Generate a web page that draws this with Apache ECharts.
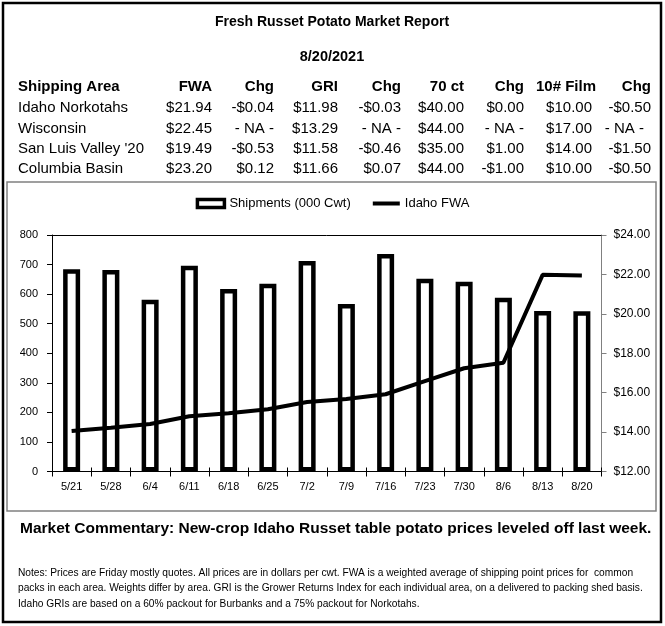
<!DOCTYPE html>
<html>
<head>
<meta charset="utf-8">
<script src="https://cdn.jsdelivr.net/npm/echarts@6/dist/echarts.min.js"></script>
<style>
html,body{margin:0;padding:0;background:#fff;}
#c{width:665px;height:626px;}
</style>
</head>
<body>
<div id="c"></div>
<script>
const reportTitle = "Fresh Russet Potato Market Report";
const reportDate = "8/20/2021";
const tableHeaders = ["Shipping Area", "FWA", "Chg", "GRI", "Chg", "70 ct", "Chg", "10# Film", "Chg"];
const rowIdaho = ["Idaho Norkotahs", "$21.94", "-$0.04", "$11.98", "-$0.03", "$40.00", "$0.00", "$10.00", "-$0.50"];
const rowWisconsin = ["Wisconsin", "$22.45", "- NA -", "$13.29", "- NA -", "$44.00", "- NA -", "$17.00", "- NA -"];
const rowSanLuis = ["San Luis Valley '20", "$19.49", "-$0.53", "$11.58", "-$0.46", "$35.00", "$1.00", "$14.00", "-$1.50"];
const rowColumbia = ["Columbia Basin", "$23.20", "$0.12", "$11.66", "$0.07", "$44.00", "-$1.00", "$10.00", "-$0.50"];

const categories = ["5/21", "5/28", "6/4", "6/11", "6/18", "6/25", "7/2", "7/9", "7/16", "7/23", "7/30", "8/6", "8/13", "8/20"];
const shipments = [684, 682, 581, 696, 617, 635, 712, 567, 736, 652, 642, 588, 543, 542];
const idahoFWA = [14.05, 14.22, 14.41, 14.80, 14.95, 15.16, 15.53, 15.68, 15.92, 16.59, 17.24, 17.52, 21.98, 21.94];
const seriesNames = ["Shipments (000 Cwt)", "Idaho FWA"];

const commentary = "Market Commentary: New-crop Idaho Russet table potato prices leveled off last week.";
const notesLines = [
  "Notes: Prices are Friday mostly quotes. All prices are in dollars per cwt. FWA is a weighted average of shipping point prices for  common",
  "packs in each area. Weights differ by area. GRI is the Grower Returns Index for each individual area, on a delivered to packing shed basis.",
  "Idaho GRIs are based on a 60% packout for Burbanks and a 75% packout for Norkotahs."
];

const FONT = '"Liberation Sans", Arial, sans-serif';
const colRight = [null, 212, 274, 338, 401, 464, 524, 592, 651];
const headerRight = [null, 212, 274, 338, 401, 464, 524, 596, 651];
const rowsY = [108, 129, 149, 169];
const tableRows = [rowIdaho, rowWisconsin, rowSanLuis, rowColumbia];

const graphics = [];
graphics.push({type: 'rect', z: -10, shape: {x: 3, y: 3, width: 658, height: 619}, style: {fill: null, stroke: '#000', lineWidth: 2.5}});
graphics.push({type: 'rect', z: -10, shape: {x: 7, y: 182, width: 649, height: 329}, style: {fill: null, stroke: '#808080', lineWidth: 1.5}});
graphics.push({type: 'text', x: 332, y: 22, style: {text: reportTitle, font: 'bold 14px ' + FONT, fill: '#000', textAlign: 'center', textVerticalAlign: 'middle'}});
graphics.push({type: 'text', x: 332, y: 57, style: {text: reportDate, font: 'bold 14.5px ' + FONT, fill: '#000', textAlign: 'center', textVerticalAlign: 'middle'}});
tableHeaders.forEach(function (h, i) {
  graphics.push({type: 'text', x: i === 0 ? 18 : headerRight[i], y: 87,
    style: {text: h, font: 'bold 15px ' + FONT, fill: '#000', textAlign: i === 0 ? 'left' : 'right', textVerticalAlign: 'middle'}});
});
tableRows.forEach(function (row, r) {
  row.forEach(function (cell, i) {
    let xr = i === 0 ? 18 : colRight[i];
    if (i === 8 && cell === '- NA -') xr = 644;
    graphics.push({type: 'text', x: xr, y: rowsY[r],
      style: {text: cell, font: '15px ' + FONT, fill: '#000', textAlign: i === 0 ? 'left' : 'right', textVerticalAlign: 'middle'}});
  });
});
graphics.push({type: 'text', x: 20, y: 529, style: {text: commentary, font: 'bold 15.5px ' + FONT, fill: '#000', textAlign: 'left', textVerticalAlign: 'middle'}});
notesLines.forEach(function (t, i) {
  graphics.push({type: 'text', x: 18, y: 573 + i * 15.5, style: {text: t, font: '10.2px ' + FONT, fill: '#000', textAlign: 'left', textVerticalAlign: 'middle'}});
});

const chart = echarts.init(document.getElementById('c'), null, {renderer: 'canvas'});
chart.setOption({
  animation: false,
  backgroundColor: '#fff',
  textStyle: {fontFamily: FONT},
  graphic: graphics,
  legend: {
    top: 192, left: 'center',
    itemWidth: 27, itemHeight: 8, itemGap: 20,
    textStyle: {fontSize: 13, color: '#000', fontFamily: FONT},
    data: [
      {name: seriesNames[0], icon: 'rect', itemStyle: {color: '#fff', borderColor: '#000', borderWidth: 3.5}},
      {name: seriesNames[1], itemStyle: {opacity: 0}, lineStyle: {color: '#000', width: 4}}
    ]
  },
  grid: {left: 52, right: 63.5, top: 235, bottom: 154.5, containLabel: false},
  xAxis: [
    {type: 'category', data: categories, position: 'bottom',
      axisLine: {lineStyle: {color: '#000', width: 1}},
      axisTick: {show: true, length: 5, lineStyle: {color: '#000'}},
      axisLabel: {fontSize: 11, color: '#000', margin: 10, interval: 0, fontFamily: FONT}},
    {type: 'category', data: categories, position: 'top',
      axisLine: {show: true, lineStyle: {color: '#000', width: 1}},
      axisTick: {show: false}, axisLabel: {show: false}},
    {type: 'category', data: categories, position: 'bottom', offset: 0,
      axisLine: {show: false},
      axisTick: {show: true, inside: true, length: 4, lineStyle: {color: '#000'}},
      axisLabel: {show: false}}
  ],
  yAxis: [
    {type: 'value', min: 0, max: 800, interval: 100, position: 'left',
      axisLine: {show: true, lineStyle: {color: '#000', width: 1}},
      axisTick: {show: true, length: 5, lineStyle: {color: '#000'}},
      splitLine: {show: false},
      axisLabel: {fontSize: 11, color: '#000', margin: 14, fontFamily: FONT}},
    {type: 'value', min: 12, max: 24, interval: 2, position: 'right',
      axisLine: {show: true, lineStyle: {color: '#808080', width: 1}},
      axisTick: {show: true, length: 5, lineStyle: {color: '#808080'}},
      splitLine: {show: false},
      axisLabel: {fontSize: 12, color: '#000', margin: 12, fontFamily: FONT,
        formatter: function (v) { return '$' + v.toFixed(2); }}}
  ],
  series: [
    {name: seriesNames[0], type: 'bar', data: shipments, xAxisIndex: 0, yAxisIndex: 0,
      barWidth: 17,
      itemStyle: {color: '#fff', borderColor: '#000', borderWidth: 4.5}},
    {name: seriesNames[1], type: 'line', data: idahoFWA, xAxisIndex: 0, yAxisIndex: 1,
      symbol: 'none', smooth: false, z: 5,
      lineStyle: {color: '#000', width: 4}, itemStyle: {color: '#000'}}
  ]
});
</script>
</body>
</html>
